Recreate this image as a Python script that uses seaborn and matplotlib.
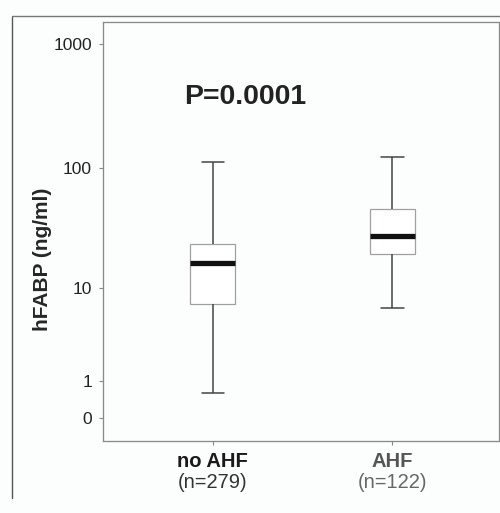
import numpy as np
import pandas as pd
import matplotlib
matplotlib.use("Agg")
import matplotlib.pyplot as plt
import seaborn as sns

# box statistics (ng/ml): min, Q1, median, Q3, max
groups = ["no AHF", "AHF"]
group_n = [279, 122]
no_ahf_stats = [0.59, 7.2, 16.5, 23.9, 112]
ahf_stats = [6.6, 19.7, 27.8, 46.4, 123]
y_ticks = [0, 1, 10, 100, 1000]
p_label = "P=0.0001"

# five points per group -> seaborn's quartiles equal the listed values
df = pd.DataFrame({
    "group": [groups[0]] * len(no_ahf_stats) + [groups[1]] * len(ahf_stats),
    "hfabp": no_ahf_stats + ahf_stats,
})

sns.set_theme(style="white")
plt.rcParams["font.family"] = ["Liberation Sans", "DejaVu Sans"]

fig = plt.figure(figsize=(5.0, 5.13), dpi=100)
fig.patch.set_facecolor("#fcfdfd")
ax = fig.add_axes([0.206, 0.1404, 0.792, 0.8168])
ax.set_facecolor("#fcfdfd")

# log(x+1) axis, as in the original (0 sits below 1)
ax.set_yscale("function",
              functions=(lambda v: np.log10(np.clip(v + 1, 1e-6, None)),
                         lambda v: 10 ** v - 1))

sns.boxplot(data=df, x="group", y="hfabp", order=groups, ax=ax,
            whis=(0, 100), width=0.246, color="white", linewidth=1.0,
            boxprops=dict(facecolor="white", edgecolor="#a0a0a0", linewidth=0.9),
            whiskerprops=dict(color="#444444", linewidth=1.1),
            capprops=dict(color="#444444", linewidth=1.1),
            medianprops=dict(color="#111111", linewidth=3.8),
            showfliers=False)

ax.set_ylim(-0.345, 1498)
ax.set_xlim(-0.609, 1.592)
ax.set_yticks(y_ticks)
ax.set_yticklabels([str(t) for t in y_ticks], fontsize=12.5, color="#222222")
ax.minorticks_off()
ax.tick_params(axis="y", left=True, length=3, width=0.8, color="#888888", pad=5)
ax.tick_params(axis="x", bottom=True, length=3, width=0.8, color="#888888", pad=5)

ax.set_xticks(range(len(groups)))
ax.set_xticklabels(groups, fontsize=14.5, fontweight="bold", color="#1a1a1a")
ax.get_xticklabels()[1].set_color("#555555")
for i, n in enumerate(group_n):
    ax.text(i, -0.10, f"(n={n})", transform=ax.get_xaxis_transform(),
            ha="center", va="center", fontsize=14.5,
            color="#333333" if i == 0 else "#666666")

ax.set_xlabel("")
ax.set_ylabel("hFABP (ng/ml)", fontsize=15, fontweight="bold")
ax.yaxis.set_label_coords(-0.154, 0.434)
ax.yaxis.label.set_va("center")

for side in ["left", "right", "top", "bottom"]:
    ax.spines[side].set_visible(True)
    ax.spines[side].set_color("#8a8a8a")
    ax.spines[side].set_linewidth(0.9)
    ax.spines[side].set_linestyle((0, (1, 0.6)))

ax.text(0.205, 0.82, p_label, transform=ax.transAxes, ha="left", va="center",
        fontsize=20.5, fontweight="bold", color="#222222")

# page frame lines from the scan
fig.add_artist(plt.Line2D([12 / 500, 1.0], [1 - 16 / 513, 1 - 16 / 513],
                          color="#777777", linewidth=1.0))
fig.add_artist(plt.Line2D([12 / 500, 12 / 500], [1 - 17 / 513, 1 - 498 / 513],
                          color="#555555", linewidth=1.0))

fig.savefig("out.png", dpi=100, facecolor=fig.get_facecolor())
